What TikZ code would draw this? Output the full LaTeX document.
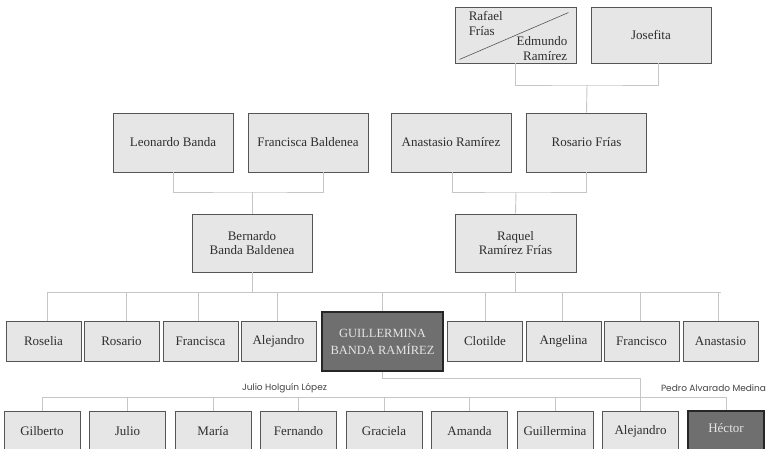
\documentclass[tikz,border=0pt]{standalone}
\usepackage{fontspec}
\setmainfont{Liberation Serif}
\newfontfamily\labelfont{Poppins}
\usetikzlibrary{positioning,calc}
\definecolor{boxfill}{HTML}{E6E6E7}
\definecolor{boxline}{HTML}{555555}
\definecolor{linkgray}{HTML}{C6C6C6}
\definecolor{darkfill}{HTML}{6F6F6F}
\definecolor{ink}{HTML}{2E2E2E}

\begin{document}
\begin{tikzpicture}[x=1pt,y=-1pt,font=\fontsize{13}{14.5}\selectfont,
  person/.style={draw=boxline,fill=boxfill,line width=0.9pt,text=ink,align=center,inner sep=0pt,minimum height=40pt},
  ego/.style={person,draw=black!85,fill=darkfill,text=white!90!black,line width=1.4pt},
  link/.style={draw=linkgray,line width=0.9pt},
  spouse/.style={font=\labelfont\fontsize{9}{10}\selectfont,text=ink!90,inner sep=1pt}]
  \useasboundingbox (0,0) rectangle (771,449);
  \node[person,minimum width=121pt,minimum height=56pt] (rafael) at (515.5,35) {};
  \draw[boxline,line width=0.6pt] ([shift={(5,-4)}]rafael.south west) -- ([shift={(-8,6)}]rafael.north east);
  \node[anchor=north west,align=left,inner sep=0pt,text=ink] (frias) at ([shift={(14,5)}]rafael.north west) {Rafael\\Frías};
  \node[anchor=south east,align=right,inner sep=0pt,text=ink] (edmundo) at ([shift={(-9,-3)}]rafael.south east) {Edmundo\\Ramírez};
  \node[person,minimum width=120pt,minimum height=56pt] (josefita) at (651,35) {Josefita};
  \foreach \n/\x/\t in {leonardo/173/Leonardo Banda,francisca/308/Francisca Baldenea,anastasio/451/Anastasio Ramírez,rosario/586.5/Rosario Frías}
    \node[person,minimum width=120pt,minimum height=59pt] (\n) at (\x,142.5) {\t};
  \node[person,minimum width=120pt,minimum height=58pt] (bernardo) at (252,243) {Bernardo\\Banda Baldenea};
  \node[person,minimum width=121pt,minimum height=58pt] (raquel) at (515.5,243) {Raquel\\Ramírez Frías};
  \foreach \n/\x/\t in {roselia/43.5/Roselia,rosarioh/121.5/Rosario,franciscah/200.5/Francisca,alejandroh/278.5/Alejandro,clotilde/485/Clotilde,angelina/563.5/Angelina,francisco/641.5/Francisco,anastasioh/720.5/Anastasio}
    \node[person,minimum width=75pt] (\n) at (\x,341) {\t};
  \node[ego,minimum width=121pt,minimum height=59pt,font=\fontsize{12.5}{17}\selectfont] (guillermina) at (382.5,341.5) {GUILLERMINA\\BANDA RAMÍREZ};
  \foreach \n/\t [count=\i from 0] in {gilberto/Gilberto,julio/Julio,maria/María,fernando/Fernando,graciela/Graciela,amanda/Amanda,guillerminah/Guillermina,alejandro/Alejandro} {
    \pgfmathsetmacro{\x}{42+85.5*\i}
    \node[person,minimum width=76pt] (\n) at (\x,431) {\t};
  }
  \node[ego,minimum width=76pt,line width=1.1pt] (hector) at (726,431) {};
  \node[text=white!90!black] (hectorname) at (726,428) {Héctor};
  \coordinate (frias join) at (587,85);
  \draw[link] (rafael.south) |- (frias join) -| ([xshift=7pt]josefita.south);
  \draw[link] (frias join) -- (rosario.north);
  \coordinate (banda join) at (252,192);
  \draw[link] (leonardo.south) |- (banda join) -| ([xshift=15pt]francisca.south);
  \draw[link] (banda join) -- (bernardo.north);
  \coordinate (ramirez join) at (516,192);
  \draw[link] ([xshift=1pt]anastasio.south) |- (ramirez join) -| (rosario.south);
  \draw[link] (ramirez join) -- (raquel.north);
  \coordinate (siblings) at (0,292);
  \draw[link] (bernardo.south) -- (bernardo.south |- siblings);
  \draw[link] (raquel.south) -- (raquel.south |- siblings);
  \draw[link] ([xshift=4pt]roselia.north |- siblings) -- (anastasioh.north |- siblings);
  \foreach \n/\d in {roselia/4,rosarioh/5,franciscah/-2,alejandroh/-1,guillermina/0,clotilde/0,angelina/-1,francisco/-1,anastasioh/-2}
    \draw[link] ([xshift=\d pt]\n.north) -- ([xshift=\d pt]\n.north |- siblings);
  \coordinate (children) at (0,397);
  \draw[link] (gilberto.north |- children) -- (hector.north |- children);
  \foreach \n in {gilberto,julio,maria,fernando,graciela,amanda,guillerminah,hector}
    \draw[link] (\n.north) -- (\n.north |- children);
  \draw[link] (guillermina.south) -- ++(0,7) -| (alejandro.north);
  \node[spouse] (holguin) at (284.5,388) {Julio Holguín López};
  \node[spouse] (alvarado) at (713.5,388) {Pedro Alvarado Medina};
\end{tikzpicture}
\end{document}
